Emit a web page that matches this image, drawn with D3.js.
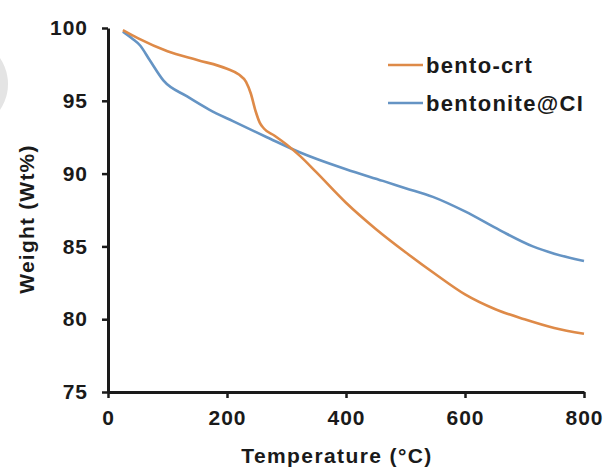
<!DOCTYPE html>
<html>
<head>
<meta charset="utf-8">
<script src="https://cdn.jsdelivr.net/npm/d3@7"></script>
<style>
  html, body { margin: 0; padding: 0; background: #fff; }
  svg { display: block; }
  text { font-family: "Liberation Sans", Arial, sans-serif; font-weight: bold; fill: #1a1a1a; }
</style>
</head>
<body>
<svg id="chart" width="608" height="470"></svg>
<script>
// ---- data ----
const seriesNames = ["bento-crt", "bentonite@CI"];
const crtTemp   = [25, 50, 100, 150, 200, 220, 232, 240, 248, 255, 262, 280, 300, 323, 350, 400, 450, 500, 550, 600, 650, 700, 750, 800];
const crtWeight = [99.85, 99.3, 98.4, 97.8, 97.2, 96.8, 96.3, 95.5, 94.3, 93.5, 93.1, 92.6, 92.0, 91.2, 90.1, 88.0, 86.2, 84.6, 83.1, 81.7, 80.7, 80.0, 79.4, 79.0];
const ciTemp    = [25, 40, 54, 70, 93, 133, 170, 210, 267, 323, 351, 400, 462, 500, 546, 600, 659, 714, 750, 800];
const ciWeight  = [99.75, 99.3, 98.8, 97.8, 96.4, 95.3, 94.4, 93.6, 92.5, 91.45, 91.0, 90.3, 89.5, 89.0, 88.4, 87.4, 86.1, 85.0, 84.5, 84.0];
const xTicks = [0, 200, 400, 600, 800];
const yTicks = [75, 80, 85, 90, 95, 100];
const colors = ["#DE8A48", "#6594C4"];

const svg = d3.select("#chart");

// faint watermark arc at left edge
svg.append("circle").attr("cx", -38).attr("cy", 84).attr("r", 46)
  .attr("fill", "#e4e4e4");

const x = d3.scaleLinear().domain([0, 800]).range([108, 584]);
const y = d3.scaleLinear().domain([75, 100]).range([392, 28]);

// axes
const xAxis = svg.append("g").attr("transform", `translate(0,${y(75)})`)
  .call(d3.axisBottom(x).tickValues(xTicks).tickSize(6).tickSizeOuter(0).tickPadding(12));
const yAxis = svg.append("g").attr("transform", `translate(${x(0)},0)`)
  .call(d3.axisLeft(y).tickValues(yTicks).tickSize(6).tickSizeOuter(0).tickPadding(14));

[xAxis, yAxis].forEach(g => {
  g.select(".domain").attr("stroke", "#1a1a1a").attr("stroke-width", 3);
  g.selectAll(".tick line").attr("stroke", "#1a1a1a").attr("stroke-width", 2.5);
  g.selectAll(".tick text").attr("font-size", 21).attr("fill", "#1a1a1a")
    .attr("font-family", "Liberation Sans, Arial, sans-serif").attr("font-weight", "bold")
    .style("letter-spacing", "1px");
});

// lines
const line = d3.line().x(d => x(d[0])).y(d => y(d[1])).curve(d3.curveMonotoneX);
const crtData = crtTemp.map((t, i) => [t, crtWeight[i]]);
const ciData  = ciTemp.map((t, i) => [t, ciWeight[i]]);

svg.append("path").datum(ciData).attr("d", line)
  .attr("fill", "none").attr("stroke", colors[1]).attr("stroke-width", 2.6);
svg.append("path").datum(crtData).attr("d", line)
  .attr("fill", "none").attr("stroke", colors[0]).attr("stroke-width", 2.6);

// legend
const legend = svg.append("g");
seriesNames.forEach((name, i) => {
  const ly = 65 + i * 38;
  legend.append("line").attr("x1", 388).attr("x2", 423).attr("y1", ly).attr("y2", ly)
    .attr("stroke", colors[i]).attr("stroke-width", 2.6);
  legend.append("text").attr("x", 426).attr("y", ly + 8).attr("font-size", 22)
    .style("letter-spacing", "1.3px").text(name);
});

// axis titles
svg.append("text").attr("x", 337).attr("y", 463).attr("text-anchor", "middle")
  .attr("font-size", 21).style("letter-spacing", "1.4px").text("Temperature (°C)");
svg.append("text").attr("transform", "translate(34,219) rotate(-90)")
  .attr("text-anchor", "middle").attr("font-size", 21).style("letter-spacing", "1.2px")
  .text("Weight (Wt%)");
</script>
</body>
</html>
